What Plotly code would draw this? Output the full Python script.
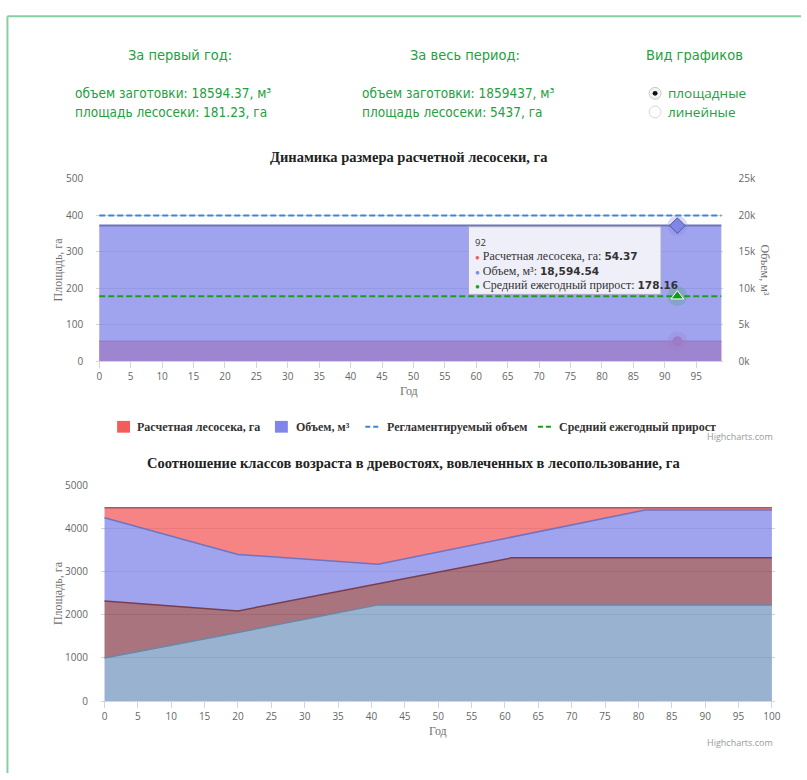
import plotly.graph_objects as go

W, H = 807, 780

# ---------------- data ----------------
years = list(range(0, 100))
cut_area_ha = [54.37] * len(years)          # Расчетная лесосека, га
volume_m3 = [18594.54] * len(years)         # Объем, м³
regulated_volume = [20000] * len(years)     # Регламентируемый объем
mean_increment = [178.16] * len(years)      # Средний ежегодный прирост
hover_year = 92

left_ticks = [0, 100, 200, 300, 400, 500]
right_ticks = [0, 5000, 10000, 15000, 20000, 25000]
right_tick_text = ["0k", "5k", "10k", "15k", "20k", "25k"]
top_x_ticks = list(range(0, 100, 5))

age_years = [0, 20, 41, 61, 81, 100]
class_1 = [1000, 1590, 2230, 2230, 2230, 2230]
class_2 = [1320, 500, 490, 1090, 1090, 1090]
class_3 = [1930, 1310, 450, 480, 1110, 1110]
class_4 = [230, 1080, 1310, 680, 50, 50]
bottom_y_ticks = [0, 1000, 2000, 3000, 4000, 5000]
bottom_x_ticks = list(range(0, 101, 5))

first_year_volume = "18594.37"
first_year_area = "181.23"
period_volume = "1859437"
period_area = "5437"

# ---------------- styles ----------------
SERIF = "Liberation Serif, Times New Roman, serif"
SANS = "Open Sans, DejaVu Sans, sans-serif"
NARROW = "Liberation Sans Narrow, DejaVu Sans Condensed, Roboto Condensed, Roboto, sans-serif"
GREEN = "#24a040"
TICKFONT = dict(family=SANS, size=10, color="#666666")

def px(x):
    return x / W

def py(y):
    return 1 - y / H

fig = go.Figure()

# ---------------- top chart ----------------
fig.add_trace(go.Scatter(x=years, y=cut_area_ha, mode="lines", fill="tozeroy",
                         fillcolor="rgba(244,91,91,0.75)", line=dict(color="#f45b5b", width=1.5),
                         xaxis="x", yaxis="y", hoverinfo="skip", name="Расчетная лесосека, га"))
i = years.index(hover_year)
fig.add_trace(go.Scatter(x=[years[i]], y=[cut_area_ha[i]], mode="markers",
                         marker=dict(size=20, color="rgba(244,91,91,0.25)"), xaxis="x", yaxis="y", hoverinfo="skip"))
fig.add_trace(go.Scatter(x=[years[i]], y=[cut_area_ha[i]], mode="markers",
                         marker=dict(size=10, color="#f45b5b"), xaxis="x", yaxis="y", hoverinfo="skip"))

fig.add_trace(go.Scatter(x=years, y=volume_m3, mode="lines", fill="tozeroy",
                         fillcolor="rgba(128,133,233,0.75)", line=dict(color="#6f73b8", width=2),
                         xaxis="x", yaxis="y2", hoverinfo="skip", name="Объем, м³"))
fig.add_trace(go.Scatter(x=years, y=regulated_volume, mode="lines",
                         line=dict(color="#3a86d8", width=2, dash="6px,3px"),
                         xaxis="x", yaxis="y2", hoverinfo="skip", name="Регламентируемый объем"))
fig.add_trace(go.Scatter(x=[years[i]], y=[volume_m3[i]], mode="markers",
                         marker=dict(size=20, color="rgba(128,133,233,0.3)"), xaxis="x", yaxis="y2", hoverinfo="skip"))
fig.add_trace(go.Scatter(x=[years[i]], y=[volume_m3[i]], mode="markers",
                         marker=dict(size=12, symbol="diamond", color="#8085e9", line=dict(color="#5a5a80", width=1)),
                         xaxis="x", yaxis="y2", hoverinfo="skip"))

fig.add_trace(go.Scatter(x=years, y=mean_increment, mode="lines",
                         line=dict(color="#16a016", width=2, dash="6px,3px"),
                         xaxis="x", yaxis="y4", hoverinfo="skip", name="Средний ежегодный прирост"))
fig.add_trace(go.Scatter(x=[years[i]], y=[mean_increment[i]], mode="markers",
                         marker=dict(size=20, color="rgba(0,160,0,0.15)"), xaxis="x", yaxis="y4", hoverinfo="skip"))
fig.add_trace(go.Scatter(x=[years[i]], y=[mean_increment[i]], mode="markers",
                         marker=dict(size=11, symbol="triangle-up", color="#0da00d", line=dict(color="white", width=1)),
                         xaxis="x", yaxis="y4", hoverinfo="skip"))

# ---------------- bottom chart ----------------
stack_styles = [
    (class_1, "rgba(119,152,191,0.75)", "#6a86a8"),
    (class_2, "rgba(141,70,84,0.75)", "#7a3d4a"),
    (class_3, "rgba(128,133,233,0.75)", "#6f73c0"),
    (class_4, "rgba(244,91,91,0.75)", "#a05a60"),
]
for vals, fc, lc in stack_styles:
    fig.add_trace(go.Scatter(x=age_years, y=vals, mode="lines", stackgroup="one",
                             fillcolor=fc, line=dict(color=lc, width=1.5),
                             xaxis="x2", yaxis="y3", hoverinfo="skip"))

axis_x_common = dict(showline=True, linecolor="#ccd6eb", linewidth=1, ticks="outside", ticklen=6,
                     tickcolor="#ccd6eb", showgrid=False, zeroline=False, tickfont=TICKFONT, fixedrange=True)
axis_y_common = dict(showgrid=True, gridcolor="#d4d4d4", gridwidth=1, zeroline=False, showline=False,
                     tickfont=TICKFONT, fixedrange=True, ticks="", ticklabelstandoff=12)

fig.update_layout(
    width=W, height=H, margin=dict(l=0, r=0, t=0, b=0),
    paper_bgcolor="white", plot_bgcolor="rgba(0,0,0,0)", showlegend=False,
    xaxis=dict(domain=[px(97), px(728)], range=[-0.475, 99.2], tickvals=top_x_ticks, anchor="y", **axis_x_common),
    yaxis=dict(domain=[py(360), py(174.3)], range=[0, 500], tickvals=left_ticks, anchor="x", **axis_y_common),
    yaxis2=dict(overlaying="y", side="right", range=[0, 25000], tickvals=right_ticks, ticktext=right_tick_text,
                showgrid=False, zeroline=False, tickfont=TICKFONT, anchor="x", ticklabelstandoff=15, fixedrange=True),
    yaxis4=dict(overlaying="y", range=[0, 500], visible=False, anchor="x", fixedrange=True),
    xaxis2=dict(domain=[px(101.7), px(781)], range=[-0.535, 100.49], tickvals=bottom_x_ticks, anchor="y3", **axis_x_common),
    yaxis3=dict(domain=[py(706.7), py(486.7)], range=[0, 5000], tickvals=bottom_y_ticks, anchor="x2", **axis_y_common),
)

# ---------------- annotations ----------------
anns = []

def ann(text, x, y, size, color, family, xanchor="left", **kw):
    anns.append(dict(text=text, x=px(x), y=py(y), xref="paper", yref="paper", xanchor=xanchor,
                     yanchor="middle", showarrow=False, font=dict(size=size, color=color, family=family), **kw))

# header
ann("За первый год:", 181, 48, 14.5, GREEN, NARROW, "center")
ann("За весь период:", 468, 48, 14.5, GREEN, NARROW, "center")
ann("Вид графиков", 700, 48, 14.5, GREEN, NARROW, "center")
ann(f"объем заготовки: {first_year_volume}, м³", 74, 87, 13.5, GREEN, NARROW)
ann(f"площадь лесосеки: {first_year_area}, га", 74, 106, 13.5, GREEN, NARROW)
ann(f"объем заготовки: {period_volume}, м³", 363, 87, 13.5, GREEN, NARROW)
ann(f"площадь лесосеки: {period_area}, га", 363, 106, 13.5, GREEN, NARROW)
ann("площадные", 671, 87, 13.5, GREEN, SANS)
ann("линейные", 671, 106, 13.5, GREEN, SANS)

# titles
ann("<b>Динамика размера расчетной лесосеки, га</b>", 412, 152, 14.5, "#222222", SERIF, "center")
ann("<b>Соотношение классов возраста в древостоях, вовлеченных в лесопользование, га</b>", 417, 464, 14.5, "#222222", SERIF, "center")

# axis titles
ann("Площадь, га", 58, 267, 12, "#707070", SERIF, "center", textangle=-90)
ann("Объем, м³", 771, 267, 12, "#707070", SERIF, "center", textangle=90)
ann("Год", 412, 390, 12, "#707070", SERIF, "center")
ann("Площадь, га", 58, 597, 12, "#707070", SERIF, "center", textangle=-90)
ann("Год", 441, 737, 12, "#707070", SERIF, "center")

# legend
ann("<b>Расчетная лесосека, га</b>", 136, 427, 12, "#333333", SERIF)
ann("<b>Объем, м³</b>", 296, 427, 12, "#333333", SERIF)
ann("<b>Регламентируемый объем</b>", 388, 427, 12, "#333333", SERIF)
ann("<b>Средний ежегодный прирост</b>", 561, 427, 12, "#333333", SERIF)

# credits
ann("Highcharts.com", 781, 437, 9, "#999999", SANS, "right")
ann("Highcharts.com", 781, 749, 9, "#999999", SANS, "right")

# tooltip text
VAL = "font-family:DejaVu Sans;font-weight:bold;font-size:10.5px"
ann("92", 477, 239, 9.5, "#333333", SANS)
ann(f"<span style='color:#f45b5b;font-size:8px'>●</span> Расчетная лесосека, га: <span style='{VAL}'>{cut_area_ha[i]:.2f}</span>",
    477, 253, 12, "#333333", SERIF)
ann(f"<span style='color:#8085e9;font-size:8px'>●</span> Объем, м³: <span style='{VAL}'>{volume_m3[i]:,.2f}</span>",
    477, 268, 12, "#333333", SERIF)
ann(f"<span style='color:#16a016;font-size:8px'>●</span> Средний ежегодный прирост: <span style='{VAL}'>{mean_increment[i]:.2f}</span>",
    477, 282, 12, "#333333", SERIF)

fig.update_layout(annotations=anns)

# ---------------- shapes ----------------
shapes = []

def rect(x0, y0, x1, y1, **kw):
    shapes.append(dict(type="rect", xref="paper", yref="paper", x0=px(x0), x1=px(x1), y0=py(y1), y1=py(y0), **kw))

def line(x0, y0, x1, y1, **kw):
    shapes.append(dict(type="line", xref="paper", yref="paper", x0=px(x0), x1=px(x1), y0=py(y0), y1=py(y1), **kw))

# page border
line(7.5, 8.5, W, 8.5, line=dict(color="#88cfa2", width=2))
line(7.5, 8.5, 7.5, H, line=dict(color="#88cfa2", width=2))

# radio buttons
shapes.append(dict(type="circle", xref="paper", yref="paper", x0=px(654), x1=px(666), y0=py(93), y1=py(81),
                   fillcolor="#f4f4f4", line=dict(color="#c8c8c8", width=1)))
shapes.append(dict(type="circle", xref="paper", yref="paper", x0=px(657.5), x1=px(662.5), y0=py(89.5), y1=py(84.5),
                   fillcolor="#111111", line=dict(width=0)))
shapes.append(dict(type="circle", xref="paper", yref="paper", x0=px(654), x1=px(666), y0=py(112), y1=py(100),
                   fillcolor="#ffffff", line=dict(color="#d8d8d8", width=1)))

# legend symbols
rect(118, 421, 131, 433, fillcolor="#f45b5b", line=dict(width=0))
rect(277, 421, 290, 433, fillcolor="#8085e9", line=dict(width=0))
line(368, 427, 383, 427, line=dict(color="#3a86d8", width=2, dash="5px,3px"))
line(542, 427, 557, 427, line=dict(color="#16a016", width=2, dash="5px,3px"))

# tooltip box
rect(472, 223, 666, 292, fillcolor="rgba(247,247,250,0.9)", line=dict(color="#a9a9c4", width=1))

fig.update_layout(shapes=shapes)

fig.write_html("out.html", post_script="document.body.style.margin='0';document.body.style.overflow='hidden';",
               config={"displayModeBar": False})
